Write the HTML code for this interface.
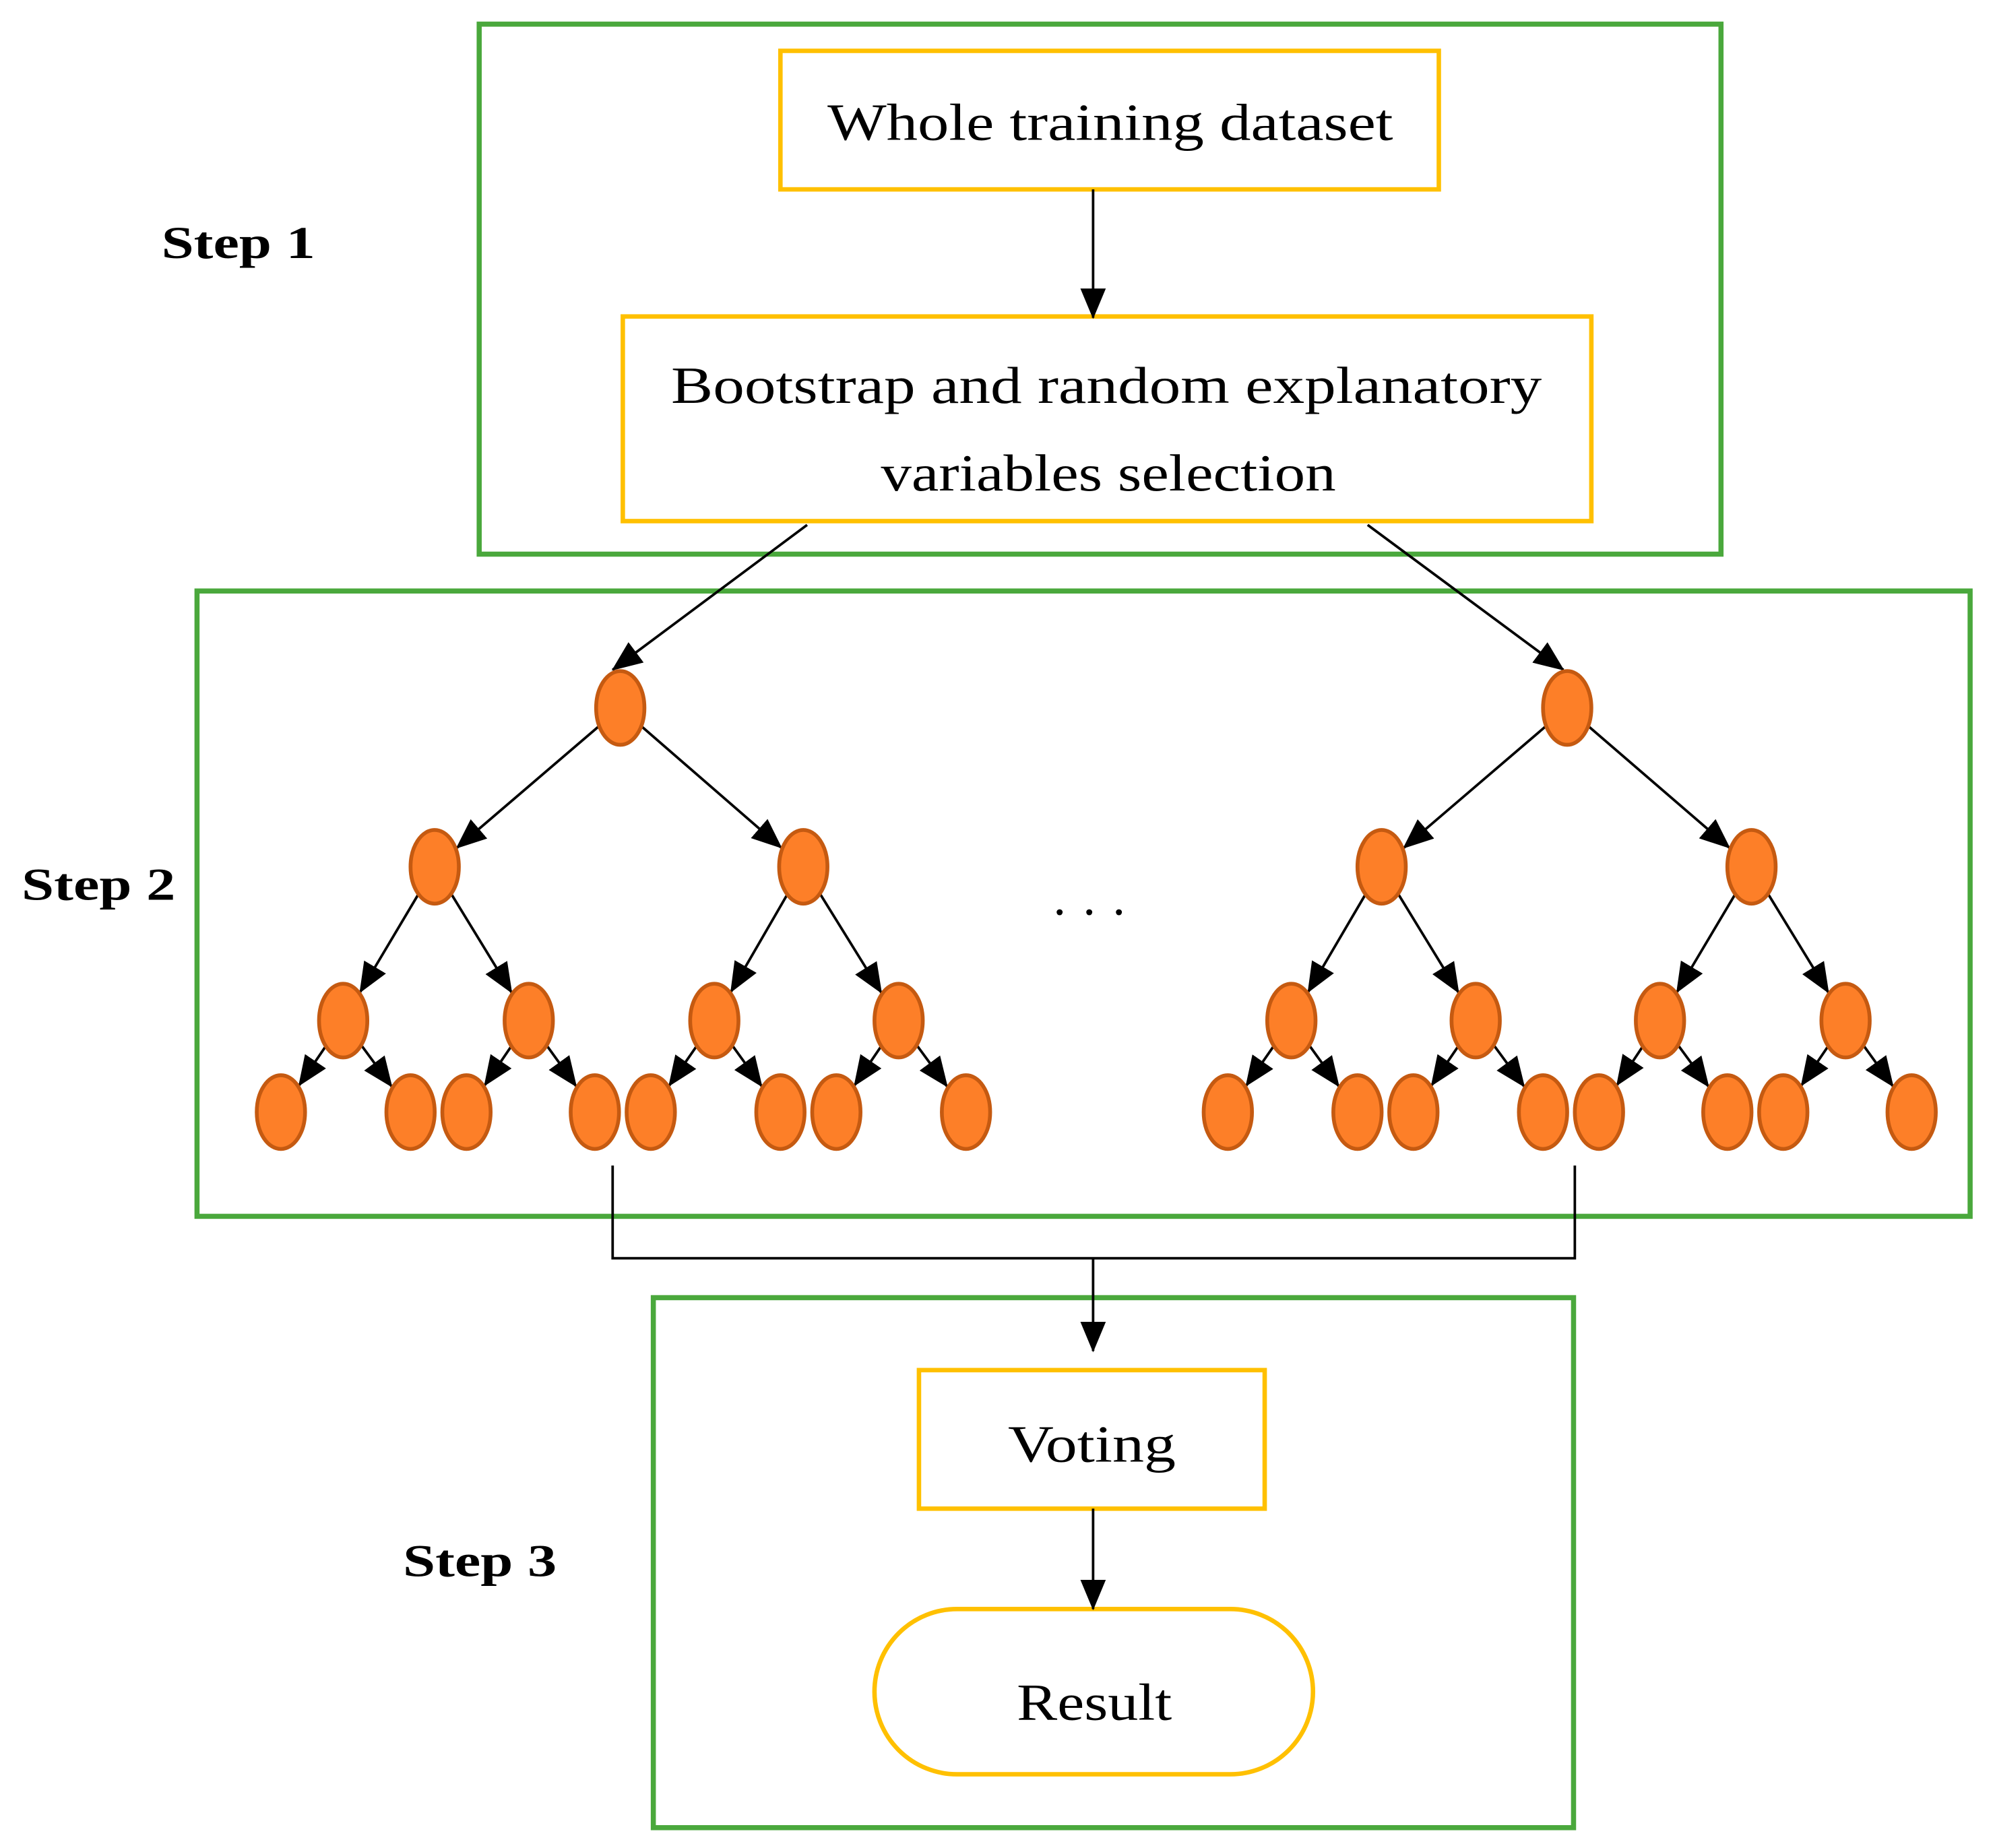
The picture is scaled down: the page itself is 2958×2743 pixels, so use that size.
<!DOCTYPE html>
<html><head><meta charset="utf-8"><style>
html,body{margin:0;padding:0;background:#fff;}
svg{display:block;}
text{font-family:"Liberation Serif",serif;fill:#000;}
</style></head><body>
<svg id="s" width="2958" height="2743" viewBox="0 0 1568 1454" preserveAspectRatio="none" xmlns="http://www.w3.org/2000/svg">
<defs>
<marker id="b" markerWidth="24" markerHeight="24" refX="23" refY="12" orient="auto" markerUnits="userSpaceOnUse" viewBox="0 0 24 24">
<path d="M0,2 L24,12 L0,22 Z" fill="#000"/>
</marker>
</defs>
<g fill="none" stroke="#4aa83c" stroke-width="4">
<rect x="377" y="19" width="977" height="417"/>
<rect x="155" y="465" width="1395" height="492"/>
<rect x="514" y="1021" width="724" height="417"/>
</g>
<g fill="#fff" stroke="#ffc000" stroke-width="3.5">
<rect x="614" y="40" width="518" height="109"/>
<rect x="490" y="249" width="762" height="161"/>
<rect x="723" y="1078" width="272" height="109"/>
<rect x="688" y="1266" width="345" height="130" rx="65"/>
</g>
<g font-size="41" lengthAdjust="spacingAndGlyphs">
<text x="651" y="110" textLength="445" lengthAdjust="spacingAndGlyphs">Whole training dataset</text>
<text x="528" y="317" textLength="685" lengthAdjust="spacingAndGlyphs">Bootstrap and random explanatory</text>
<text x="693" y="386" textLength="358" lengthAdjust="spacingAndGlyphs">variables selection</text>
<text x="793" y="1150" textLength="132" lengthAdjust="spacingAndGlyphs">Voting</text>
<text x="800" y="1353" textLength="122" lengthAdjust="spacingAndGlyphs">Result</text>
</g>
<g font-size="36" font-weight="bold">
<text x="127" y="203" textLength="121" lengthAdjust="spacingAndGlyphs">Step 1</text>
<text x="17" y="708" textLength="121" lengthAdjust="spacingAndGlyphs">Step 2</text>
<text x="317" y="1240" textLength="121" lengthAdjust="spacingAndGlyphs">Step 3</text>
</g>
<text x="857" y="731" font-size="40" text-anchor="middle">· · ·</text>
<g stroke="#000" stroke-width="2" fill="none">
<line x1="860" y1="149" x2="860" y2="250" marker-end="url(#b)"/>
<line x1="635" y1="413" x2="482" y2="527" marker-end="url(#b)"/>
<line x1="1076" y1="413" x2="1230" y2="527" marker-end="url(#b)"/>
<polyline points="482,917 482,990 1239,990 1239,917"/>
<line x1="860" y1="990" x2="860" y2="1063" marker-end="url(#b)"/>
<line x1="860" y1="1187" x2="860" y2="1266" marker-end="url(#b)"/>
</g>
<g id="trees"></g>
</svg>
<script>
var g=document.getElementById('trees'),NS='http://www.w3.org/2000/svg';
function tree(r,l2,l3,lv){
 var nodes=[[r,557]],edges=[];
 l2.forEach(function(x){nodes.push([x,682]);edges.push([[r,557],[x,682]]);});
 l3.forEach(function(x,i){nodes.push([x,803]);edges.push([[l2[i>>1],682],[x,803]]);});
 lv.forEach(function(x,i){nodes.push([x,875]);edges.push([[l3[i>>1],803],[x,875]]);});
 edges.forEach(function(e){
  var p=e[0],c=e[1],dx=p[0]-c[0],dy=p[1]-c[1];
  var t=1/Math.sqrt(dx*dx/(20*20)+dy*dy/(30*30));
  var ex=c[0]+dx*t,ey=c[1]+dy*t;
  var q=1/Math.sqrt(dx*dx/(19*19)+dy*dy/(29*29));
  var sx=p[0]-dx*q,sy=p[1]-dy*q;
  var L=document.createElementNS(NS,'line');
  L.setAttribute('x1',sx);L.setAttribute('y1',sy);L.setAttribute('x2',ex);L.setAttribute('y2',ey);
  L.setAttribute('stroke','#000');L.setAttribute('stroke-width','2');L.setAttribute('marker-end','url(#b)');
  g.appendChild(L);
 });
 nodes.forEach(function(n){
  var E=document.createElementNS(NS,'ellipse');
  E.setAttribute('cx',n[0]);E.setAttribute('cy',n[1]);E.setAttribute('rx',19);E.setAttribute('ry',29);
  E.setAttribute('fill','#fd7f28');E.setAttribute('stroke','#c55a11');E.setAttribute('stroke-width','3');
  g.appendChild(E);
 });
}
tree(488,[342,632],[270,416,562,707],[221,323,367,468,512,614,658,760]);
tree(1233,[1087,1378],[1016,1161,1306,1452],[966,1068,1112,1214,1258,1359,1403,1504]);
</script>
</body></html>
